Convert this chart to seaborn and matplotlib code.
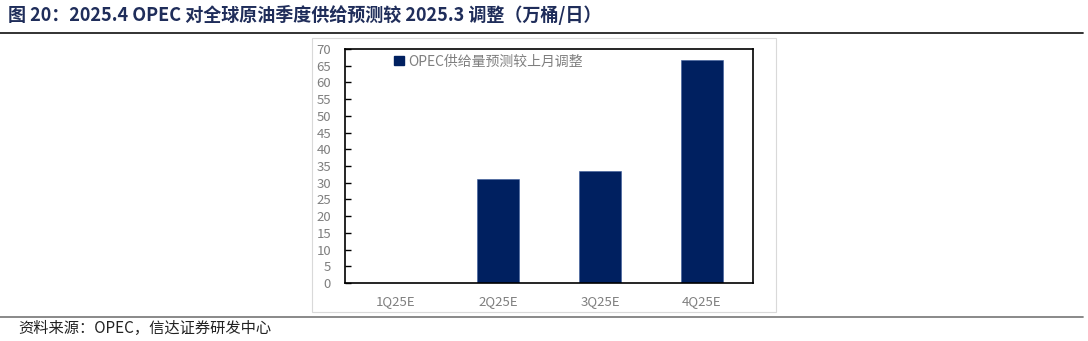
import matplotlib
matplotlib.use("Agg")
import matplotlib.pyplot as plt
import seaborn as sns
import pandas as pd
from matplotlib.patches import Rectangle, Patch
from matplotlib.lines import Line2D

categories = ["1Q25E", "2Q25E", "3Q25E", "4Q25E"]
values = [0.0, 31.2, 33.5, 66.6]
series_name = "OPEC供给量预测较上月调整"
yticks = list(range(0, 75, 5))

title = "图 20：2025.4 OPEC 对全球原油季度供给预测较 2025.3 调整（万桶/日）"
source = "资料来源：OPEC，信达证券研发中心"

sns.set_theme(style="white")
plt.rcParams['font.family'] = ['Noto Sans CJK SC', 'DejaVu Sans']

W, H = 1088, 341
fig = plt.figure(figsize=(W / 100, H / 100), dpi=100)

def fx(x): return x / W
def fy(y): return 1 - y / H

# chart frame
fig.patches.append(Rectangle((fx(312), fy(312)), fx(776) - fx(312), fy(38) - fy(312),
                             transform=fig.transFigure, fill=False, edgecolor="#d9d9d9", lw=0.8))
# title and rules
fig.text(fx(8), fy(15), title, fontsize=13, fontweight="bold", color="#1f2d5a",
         ha="left", va="center")
fig.add_artist(Line2D([0, fx(1083)], [fy(33), fy(33)], transform=fig.transFigure, color="#222222", lw=1.3))
fig.add_artist(Line2D([0, fx(1083)], [fy(317), fy(317)], transform=fig.transFigure, color="#808080", lw=1.3))
fig.text(fx(18), fy(328), source, fontsize=11, style="italic", color="#222222", ha="left", va="center")

ax = fig.add_axes([fx(345), fy(283), fx(753) - fx(345), fy(49) - fy(283)])
df = pd.DataFrame({"cat": categories, "val": values})
sns.barplot(data=df, x="cat", y="val", ax=ax, color="#002060", width=0.41, saturation=1,
            edgecolor="#3a5a9a", linewidth=0.4)
ax.set_ylim(0, 70)
ax.set_xlim(-0.5, 3.5)
ax.set_yticks(yticks)
ax.set_yticklabels([str(t) for t in yticks])
ax.set_xlabel("")
ax.set_ylabel("")
for s in ax.spines.values():
    s.set_visible(True)
    s.set_color("black")
    s.set_linewidth(1.2)
ax.tick_params(axis="y", direction="in", length=4, width=1, color="black",
               labelsize=9.5, labelcolor="#7f7f7f", pad=10, left=True)
ax.tick_params(axis="x", length=0, labelsize=9.5, labelcolor="#7f7f7f", pad=9)
for lab in ax.get_yticklabels():
    lab.set_horizontalalignment("right")

handle = Patch(facecolor="#002060", edgecolor="#002060")
ax.legend([handle], [series_name], loc="upper left", bbox_to_anchor=(0.09, 1.03), frameon=False,
          fontsize=10, labelcolor="#7f7f7f", handlelength=0.7, handleheight=0.7, handletextpad=0.3)

fig.savefig("out.png", dpi=100, facecolor="white")
